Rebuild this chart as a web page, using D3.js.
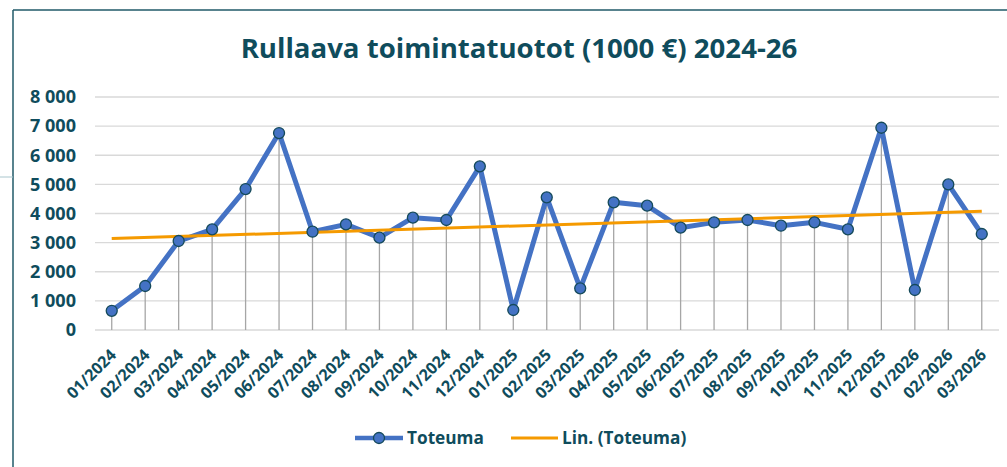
<!DOCTYPE html>
<html><head><meta charset="utf-8">
<script src="https://cdn.jsdelivr.net/npm/d3@7"></script>
<style>
html,body{margin:0;padding:0;background:#fff;}
svg{display:block;font-family:"Open Sans","Noto Sans",sans-serif;}
</style></head>
<body>
<svg id="c" width="1007" height="467"></svg>
<script>
const title = "Rullaava toimintatuotot (1000 €) 2024-26";
const categories = ["01/2024","02/2024","03/2024","04/2024","05/2024","06/2024","07/2024","08/2024","09/2024","10/2024","11/2024","12/2024",
"01/2025","02/2025","03/2025","04/2025","05/2025","06/2025","07/2025","08/2025","09/2025","10/2025","11/2025","12/2025",
"01/2026","02/2026","03/2026"];
const toteuma = [660,1510,3055,3457,4840,6763,3375,3628,3170,3856,3776,5619,
687,4555,1431,4383,4268,3513,3696,3776,3581,3696,3457,6945,
1373,5000,3296];
const yTicks = [0,1000,2000,3000,4000,5000,6000,7000,8000];
const legendLabels = ["Toteuma","Lin. (Toteuma)"];

const textColor = "#0f4c5c";
const svg = d3.select("#c");

function fitSize(sel, base, target){
  sel.attr("font-size", base);
  const w = sel.node().getComputedTextLength();
  const s = base*target/w;
  sel.attr("font-size", s);
  return s;
}

// frame
svg.append("line").attr("x1",13).attr("x2",13).attr("y1",10).attr("y2",467).attr("stroke","#215a69").attr("stroke-width",1.5);
svg.append("line").attr("x1",13).attr("x2",1007).attr("y1",10).attr("y2",10).attr("stroke","#215a69").attr("stroke-width",1.5);
svg.append("line").attr("x1",0).attr("x2",13).attr("y1",177).attr("y2",177).attr("stroke","#a9c6cd").attr("stroke-width",1);

const x = d3.scalePoint().domain(categories).range([95,998.5]).padding(0.5);
const y = d3.scaleLinear().domain([0,8000]).range([330,97]);

// gridlines
svg.append("g").selectAll("line").data(yTicks).join("line")
  .attr("x1",95).attr("x2",999).attr("y1",d=>y(d)).attr("y2",d=>y(d))
  .attr("stroke","#d9d9d9").attr("stroke-width",1.3);

// y labels
const yAxis = d3.axisLeft(y).tickValues(yTicks).tickSize(0).tickPadding(0)
  .tickFormat(d=>d3.format(",")(d).replace(/,/g," "));
const gy = svg.append("g").attr("transform","translate(76,0)").call(yAxis);
gy.select(".domain").remove();
gy.selectAll("text").attr("fill",textColor).attr("font-weight","bold").attr("font-family","'Open Sans',sans-serif");
const ys = fitSize(gy.selectAll("text").filter(d=>d===8000), 16, 46);
gy.selectAll("text").attr("font-size", ys);

// x labels
const xAxis = d3.axisBottom(x).tickSize(0).tickPadding(0);
const gx = svg.append("g").attr("transform","translate(0,330)").call(xAxis);
gx.select(".domain").remove();
gx.selectAll("text").attr("fill",textColor).attr("font-weight","bold")
  .attr("font-family","'Open Sans',sans-serif")
  .attr("text-anchor","end").attr("dy",null).attr("y",0)
  .attr("transform","translate(5,26) rotate(-45)");
const xs0 = fitSize(gx.selectAll("text").filter((d,i)=>i===0), 14, 62);
gx.selectAll("text").attr("font-size", xs0);

// drop lines
svg.append("g").selectAll("line").data(toteuma).join("line")
  .attr("x1",(d,i)=>x(categories[i])).attr("x2",(d,i)=>x(categories[i]))
  .attr("y1",d=>y(d)).attr("y2",y(0))
  .attr("stroke","#a6a6a6").attr("stroke-width",1.3);

// series
const line = d3.line().x((d,i)=>x(categories[i])).y(d=>y(d));
svg.append("path").datum(toteuma).attr("d",line).attr("fill","none")
  .attr("stroke","#4472c4").attr("stroke-width",5).attr("stroke-linejoin","round");

// trend (least squares)
const n = toteuma.length;
const xsIdx = d3.range(1,n+1);
const mx = d3.mean(xsIdx), my = d3.mean(toteuma);
const slope = d3.sum(xsIdx,(v,i)=>(v-mx)*(toteuma[i]-my))/d3.sum(xsIdx,v=>(v-mx)*(v-mx));
const icpt = my - slope*mx;
const trend = [0,n-1].map(i=>({c:categories[i], v:icpt+slope*(i+1)}));
svg.append("path").datum(trend).attr("d",d3.line().x(d=>x(d.c)).y(d=>y(d.v)))
  .attr("fill","none").attr("stroke","#f59a00").attr("stroke-width",3);

// markers
svg.append("g").selectAll("circle").data(toteuma).join("circle")
  .attr("cx",(d,i)=>x(categories[i])).attr("cy",d=>y(d)).attr("r",5.5)
  .attr("fill","#4472c4").attr("stroke","#154a5a").attr("stroke-width",1.3);

// title
const t = svg.append("text").attr("x",519).attr("y",58).attr("text-anchor","middle")
  .attr("fill",textColor).attr("font-weight","bold").text(title);
fitSize(t, 26, 557);

// legend
const ly = 438;
const lg = svg.append("g");
lg.append("line").attr("x1",355).attr("x2",403).attr("y1",ly).attr("y2",ly).attr("stroke","#4472c4").attr("stroke-width",4.5);
lg.append("circle").attr("cx",379).attr("cy",ly).attr("r",5.5).attr("fill","#4472c4").attr("stroke","#154a5a").attr("stroke-width",1.3);
const l1 = lg.append("text").attr("x",407).attr("y",ly).attr("dy","0.35em").attr("fill",textColor).attr("font-weight","bold").text(legendLabels[0]);
const ls = fitSize(l1, 16, 77);
lg.append("line").attr("x1",511).attr("x2",558).attr("y1",ly).attr("y2",ly).attr("stroke","#f59a00").attr("stroke-width",3);
lg.append("text").attr("x",562).attr("y",ly).attr("dy","0.35em").attr("fill",textColor).attr("font-weight","bold").attr("font-size",ls).text(legendLabels[1]);
</script>
</body></html>
